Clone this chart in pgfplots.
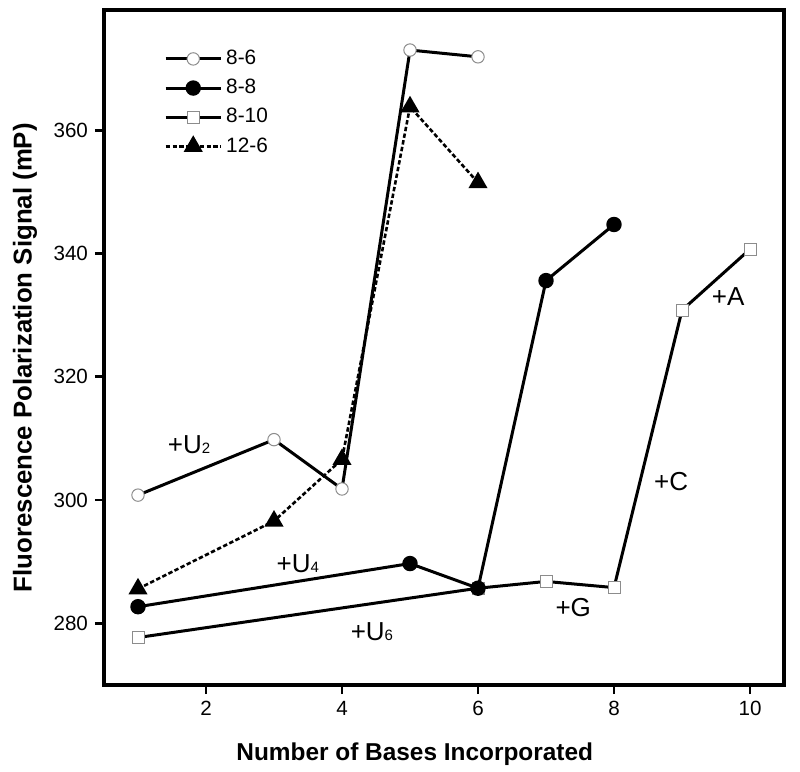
\documentclass[border=0pt]{standalone}
\usepackage{fontspec}
\setmainfont{Liberation Sans}
\usepackage{pgfplots}
\pgfplotsset{compat=1.18}

\newcommand{\ann}[2]{\fontsize{13}{15}\selectfont +#1{\fontsize{7.5}{9}\selectfont #2}}

\begin{document}
\begin{tikzpicture}
\begin{axis}[
    width=340pt, height=337.5pt, scale only axis,
    xmin=0.5, xmax=10.5,
    ymin=270, ymax=379.5,
    xtick={2,4,6,8,10},
    ytick={280,300,320,340,360},
    xtick pos=left, ytick pos=left,
    tick align=outside,
    major tick length=4.5pt,
    tick style={line width=1.4pt, black},
    axis line style={line width=2.2pt},
    /pgf/number format/assume math mode=true,
    ticklabel style={font=\fontsize{10.3}{12}\selectfont},
    xlabel={Number of Bases Incorporated},
    ylabel={Fluorescence Polarization Signal (mP)},
    xlabel style={font=\bfseries\fontsize{12.2}{14}\selectfont,
        at={(axis description cs:0.457,-0.102)}, anchor=center},
    ylabel style={font=\bfseries\fontsize{12.9}{14}\selectfont,
        at={(axis description cs:-0.116,0.485)}, anchor=center},
    legend style={draw=none, fill=none, inner sep=0pt,
        at={(0.088,0.947)}, anchor=north west,
        font=\fontsize{10.4}{12}\selectfont, row sep=1.8pt},
    legend cell align=left,
    legend image code/.code={\draw[mark repeat=2,mark phase=2,#1]
        plot coordinates {(0pt,0pt) (13.75pt,0pt) (27.5pt,0pt)};},
    every axis plot/.append style={line width=1.5pt},
]

% 8-10 (drawn first, its point at 6 sits under the 8-8 point)
\addplot[black, mark=square*, mark size=3pt,
    mark options={solid, fill=white, draw=black!45, line width=0.5pt}, forget plot]
    coordinates {(1,277.7) (6,285.7) (7,286.8) (8,285.8) (9,330.8) (10,340.7)};

% 8-8
\addplot[black, mark=*, mark size=3.1pt,
    mark options={solid, fill=black, draw=black}, forget plot]
    coordinates {(1,282.7) (5,289.7) (6,285.7) (7,335.6) (8,344.7)};

% 8-6
\addplot[black, mark=*, mark size=3.1pt,
    mark options={solid, fill=white, draw=black!45, line width=0.5pt}, forget plot]
    coordinates {(1,300.8) (3,309.8) (4,301.8) (5,373.0) (6,371.9)};

% 12-6
\addplot[black, line width=1.3pt, dash pattern=on 2.2pt off 1.2pt,
    mark=triangle*, mark size=4.2pt,
    mark options={solid, fill=black, draw=black}, forget plot]
    coordinates {(1,285.6) (3,296.6) (4,306.6) (5,363.8) (6,351.5)};

% legend
\addlegendimage{black, line width=1.5pt, mark=*, mark size=3.1pt,
    mark options={solid, fill=white, draw=black!45, line width=0.5pt}}
\addlegendentry{8-6}
\addlegendimage{black, line width=1.5pt, mark=*, mark size=3.1pt,
    mark options={solid, fill=black}}
\addlegendentry{8-8}
\addlegendimage{black, line width=1.5pt, mark=square*, mark size=3pt,
    mark options={solid, fill=white, draw=black!45, line width=0.5pt}}
\addlegendentry{8-10}
\addlegendimage{black, line width=1.3pt, dash pattern=on 2.2pt off 1.2pt,
    mark=triangle*, mark size=4.2pt, mark options={solid, fill=black}}
\addlegendentry{12-6}

% annotations
\node at (axis cs:1.75,309.0) {\ann{U}{2}};
\node at (axis cs:3.35,289.6) {\ann{U}{4}};
\node at (axis cs:4.44,278.6) {\ann{U}{6}};
\node at (axis cs:7.40,282.5) {\ann{G}{}};
\node at (axis cs:8.84,303.0) {\ann{C}{}};
\node at (axis cs:9.68,333.0) {\ann{A}{}};
\end{axis}
\path ([shift={(-52pt,-40.5pt)}]current axis.south west)
      ([shift={(8pt,5pt)}]current axis.north east);
\end{tikzpicture}
\end{document}
